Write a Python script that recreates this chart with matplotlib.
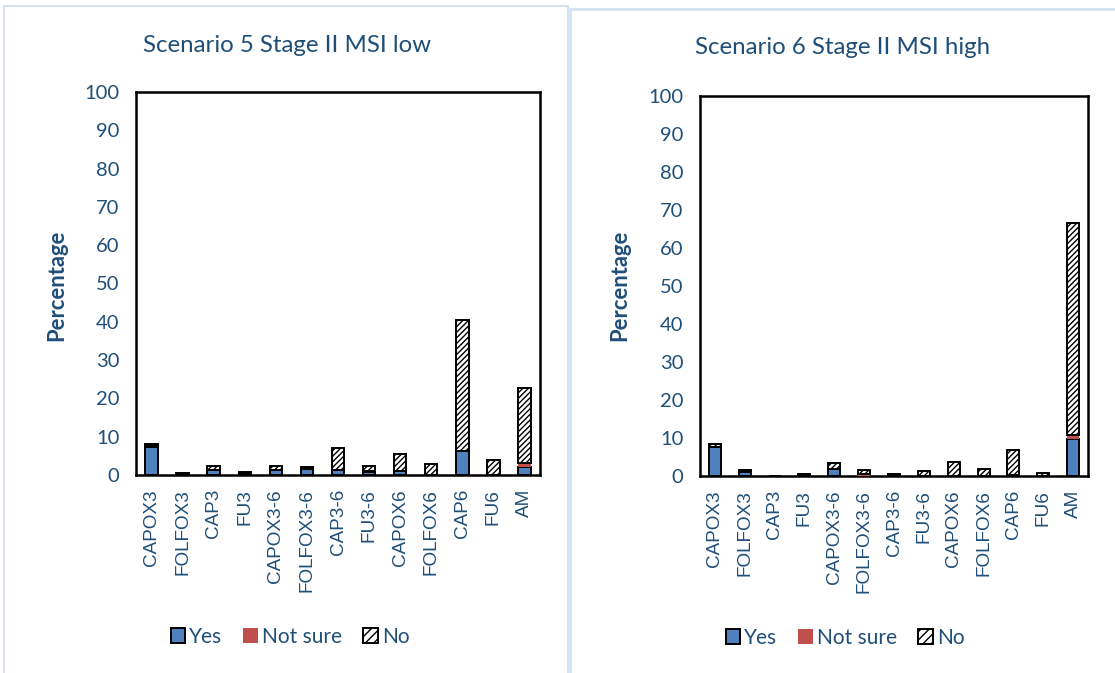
import matplotlib
matplotlib.use("Agg")
import matplotlib.pyplot as plt
from matplotlib.patches import Rectangle, Patch
import numpy as np

plt.rcParams['hatch.linewidth'] = 1.0

regimens = ["CAPOX3", "FOLFOX3", "CAP3", "FU3", "CAPOX3-6", "FOLFOX3-6", "CAP3-6",
            "FU3-6", "CAPOX6", "FOLFOX6", "CAP6", "FU6", "AM"]

# Scenario 5: Stage II, MSI low
s5_yes      = [7.3, 0.0, 1.3, 0.6, 1.3, 1.6, 1.3, 0.7, 1.0, 0.0, 6.3, 0.0, 2.2]
s5_not_sure = [0.2, 0.0, 0.0, 0.0, 0.0, 0.0, 0.0, 0.3, 0.0, 0.0, 0.0, 0.0, 1.0]
s5_no       = [0.6, 0.4, 1.1, 0.2, 1.1, 0.4, 5.7, 1.3, 4.5, 2.8, 34.3, 3.9, 19.4]

# Scenario 6: Stage II, MSI high
s6_yes      = [7.6, 1.0, 0.0, 0.0, 1.9, 0.0, 0.0, 0.0, 0.0, 0.0, 0.2, 0.0, 9.7]
s6_not_sure = [0.0, 0.0, 0.0, 0.0, 0.0, 0.4, 0.0, 0.0, 0.0, 0.0, 0.0, 0.0, 1.1]
s6_no       = [0.9, 0.5, 0.0, 0.4, 1.5, 1.1, 0.5, 1.2, 3.8, 1.9, 6.6, 0.9, 55.7]

y_ticks = list(range(0, 101, 10))

TEXT = "#1F4E79"
BLUE = "#4F81BD"
RED = "#C0504D"
PANEL_EDGE = "#D5E2F2"

W, H = 1115, 673
fig = plt.figure(figsize=(W / 100, H / 100), dpi=100)
fig.patch.set_facecolor("white")


def px_rect(x0, y_top, x1, y_bot):
    return [x0 / W, 1 - y_bot / H, (x1 - x0) / W, (y_bot - y_top) / H]


# chart-area outlines
fig.add_artist(Rectangle((4 / W, -0.05), (568 - 4) / W, 1.05 - 6 / H,
                         transform=fig.transFigure, fill=False,
                         edgecolor=PANEL_EDGE, lw=1.5))
fig.add_artist(Rectangle((570 / W, -0.05), 0.6, 1.05 - 9 / H,
                         transform=fig.transFigure, fill=False,
                         edgecolor=PANEL_EDGE, lw=2))


def draw_panel(rect, title, title_xy, ylabel_x, legend_xy, yes, not_sure, no):
    ax = fig.add_axes(rect)
    x = np.arange(len(regimens))
    yes = np.array(yes)
    ns = np.array(not_sure)
    no = np.array(no)
    w = 0.4
    ax.bar(x, yes, w, color=BLUE, edgecolor="black", linewidth=1.4, zorder=3)
    ax.bar(x, ns, w, bottom=yes, color=RED, edgecolor=RED, linewidth=0.0, zorder=3)
    ax.bar(x, no, w, bottom=yes + ns, color="white", edgecolor="black",
           hatch="//////", linewidth=1.4, zorder=3)
    ax.set_xlim(-0.5, len(regimens) - 0.5)
    ax.set_ylim(0, 100)
    ax.set_yticks(y_ticks)
    ax.set_yticklabels([str(t) for t in y_ticks], fontfamily="Lato",
                       fontsize=14.5, color=TEXT)
    ax.set_xticks(x)
    ax.set_xticklabels(regimens, rotation=90, fontfamily="Liberation Sans",
                       fontsize=13.6, color=TEXT)
    ax.tick_params(length=0, pad=12)
    ax.tick_params(axis="x", pad=10)
    for s in ax.spines.values():
        s.set_linewidth(1.8)
        s.set_color("black")
    fig.text(title_xy[0] / W, 1 - title_xy[1] / H, title, ha="center",
             va="center", fontfamily="Lato", fontsize=17.3, color=TEXT)
    fig.text(ylabel_x / W, 1 - 285 / H, "Percentage", rotation=90, ha="center",
             va="center", fontfamily="Lato", fontweight="bold",
             fontsize=15.8, color=TEXT)
    handles = [
        Patch(facecolor=BLUE, edgecolor="black", linewidth=1.4),
        Patch(facecolor=RED, edgecolor=RED, linewidth=0),
        Patch(facecolor="white", edgecolor="black", hatch="////", linewidth=1.4),
    ]
    fig.legend(handles, ["Yes", "Not sure", "No"], loc="center",
               bbox_to_anchor=(legend_xy[0] / W, 1 - legend_xy[1] / H),
               ncol=3, frameon=False, handlelength=0.7, handleheight=0.7,
               handletextpad=0.2, columnspacing=1.0,
               prop={"family": "Lato", "size": 15}, labelcolor=TEXT)
    return ax


draw_panel(px_rect(136, 92, 540, 475), "Scenario 5 Stage II MSI low", (287, 45),
           57, (290, 637), s5_yes, s5_not_sure, s5_no)
draw_panel(px_rect(700, 96, 1088, 476), "Scenario 6 Stage II MSI high", (843, 48),
           620, (845, 638), s6_yes, s6_not_sure, s6_no)

fig.savefig("out.png", dpi=100, facecolor="white")
